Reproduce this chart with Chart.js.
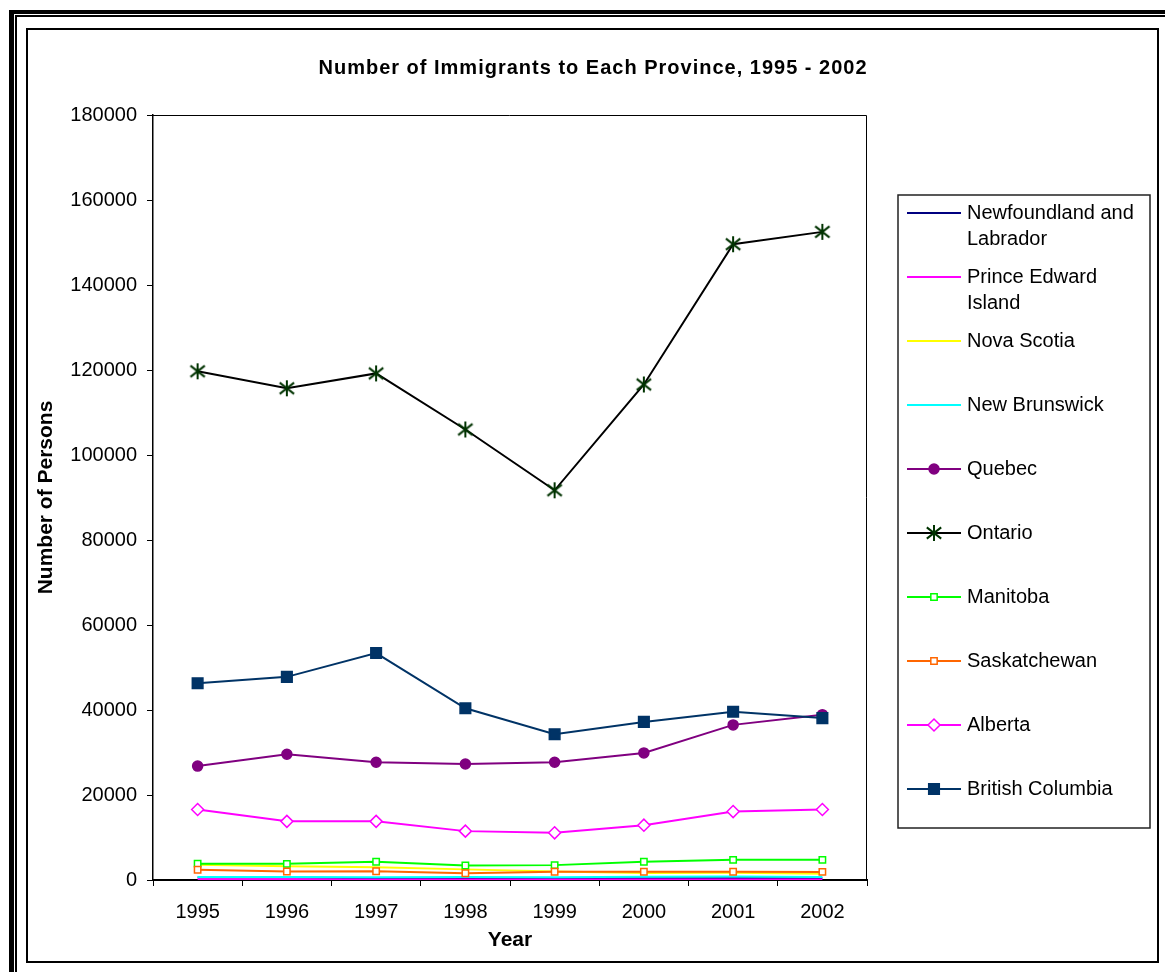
<!DOCTYPE html>
<html>
<head>
<meta charset="utf-8">
<title>Number of Immigrants to Each Province, 1995 - 2002</title>
<script src="https://cdn.jsdelivr.net/npm/chart.js@4.4.1/dist/chart.umd.min.js"></script>
<style>
  html, body { margin: 0; padding: 0; background: #fff; overflow: hidden; }
  #page { position: relative; width: 1165px; height: 972px; }
  .rule { position: absolute; box-sizing: border-box; }
  #outer1 { left: 9px; top: 10px; width: 1200px; height: 1000px; border-left: 5px solid #000; border-top: 4px solid #000; }
  #outer2 { left: 15px; top: 15px; width: 1200px; height: 1000px; border-left: 2px solid #000; border-top: 2px solid #000; }
  #frame { left: 26px; top: 28px; width: 1133px; height: 935px; border: 2px solid #000; background: #fff; }
  canvas { position: absolute; left: 0; top: 0; }
</style>
</head>
<body>
<div id="page">
  <div class="rule" id="outer1"></div>
  <div class="rule" id="outer2"></div>
  <div class="rule" id="frame"></div>
  <canvas id="immigrants-chart" width="1165" height="972"></canvas>
</div>
<script>
const chartTitle = 'Number of Immigrants to Each Province, 1995 - 2002';

const years = ['1995', '1996', '1997', '1998', '1999', '2000', '2001', '2002'];

const provinces = [
    'Newfoundland and Labrador', 'Prince Edward Island', 'Nova Scotia', 'New Brunswick',
    'Quebec', 'Ontario', 'Manitoba', 'Saskatchewan', 'Alberta', 'British Columbia'
];

const newfoundland = [580, 580, 440, 390, 420, 420, 390, 400];
const princeEdward = [150, 150, 140, 140, 140, 140, 130, 110];
const novaScotia = [3600, 3250, 3000, 2500, 2000, 1650, 1700, 1450];
const newBrunswick = [700, 700, 650, 700, 650, 750, 800, 700];
const quebec = [26800, 29600, 27700, 27300, 27700, 29900, 36500, 38900];
const ontario = [119700, 115700, 119200, 106000, 91700, 116600, 149600, 152500];
const manitoba = [3850, 3800, 4300, 3400, 3500, 4300, 4750, 4750];
const saskatchewan = [2400, 2000, 2050, 1600, 1950, 1950, 1950, 1900];
const alberta = [16600, 13800, 13800, 11500, 11100, 12900, 16100, 16600];
const britishColumbia = [46300, 47800, 53400, 40400, 34300, 37200, 39600, 38100];

const yTicks = { min: 0, max: 180000, step: 20000 };

const series = [newfoundland, princeEdward, novaScotia, newBrunswick, quebec,
    ontario, manitoba, saskatchewan, alberta, britishColumbia];

// asterisk marker (vertical bar + X), drawn once and used as an image point style
function asteriskMarker(size, color) {
    const c = document.createElement('canvas');
    c.width = size;
    c.height = size;
    const g = c.getContext('2d');
    const m = size / 2;
    const r = size / 2 - 1;
    g.strokeStyle = color;
    g.lineWidth = 2;
    g.beginPath();
    g.moveTo(m, m - r); g.lineTo(m, m + r);
    g.moveTo(m - r * 0.9, m - r * 0.7); g.lineTo(m + r * 0.9, m + r * 0.7);
    g.moveTo(m + r * 0.9, m - r * 0.7); g.lineTo(m - r * 0.9, m + r * 0.7);
    g.stroke();
    return c;
}

const star = asteriskMarker(18, '#003300');

const looks = [
    { line: '#000080' },
    { line: '#FF00FF' },
    { line: '#FFFF00' },
    { line: '#00FFFF' },
    { line: '#800080', style: 'circle', r: 5, fill: '#800080', edge: '#800080' },
    { line: '#000000', style: star, r: 9, fill: '#003300', edge: '#003300' },
    { line: '#00FF00', style: 'rect', r: 4.5, fill: '#FFFFFF', edge: '#00FF00' },
    { line: '#FF6600', style: 'rect', r: 4.5, fill: '#FFFFFF', edge: '#FF6600' },
    { line: '#FF00FF', style: 'rectRot', r: 6, fill: '#FFFFFF', edge: '#FF00FF' },
    { line: '#003366', style: 'rect', r: 7.5, fill: '#003366', edge: '#003366' }
];

const datasets = provinces.map((name, i) => ({
    label: name,
    data: series[i],
    borderColor: looks[i].line,
    borderWidth: 2,
    pointStyle: looks[i].style || 'circle',
    pointRadius: looks[i].style ? looks[i].r : 0,
    pointHoverRadius: looks[i].style ? looks[i].r : 0,
    pointBackgroundColor: looks[i].fill || looks[i].line,
    pointBorderColor: looks[i].edge || looks[i].line,
    pointBorderWidth: 1.5,
    tension: 0,
    order: provinces.length - 1 - i
}));

// thin box round the plot area
const plotFrame = {
    id: 'plotFrame',
    beforeDatasetsDraw(chart) {
        const { ctx, chartArea: a } = chart;
        ctx.save();
        ctx.strokeStyle = '#000';
        ctx.lineWidth = 1;
        ctx.beginPath();
        ctx.moveTo(a.left, a.top + 0.5);
        ctx.lineTo(a.right - 0.5, a.top + 0.5);
        ctx.lineTo(a.right - 0.5, a.bottom);
        ctx.stroke();
        ctx.restore();
    }
};

// title centred across the whole framed area, not just over the plot
const frameTitle = {
    id: 'frameTitle',
    afterDraw(chart) {
        const ctx = chart.ctx;
        ctx.save();
        ctx.font = 'bold 20px "Liberation Sans", Arial, sans-serif';
        if ('letterSpacing' in ctx) ctx.letterSpacing = '1px';
        ctx.fillStyle = '#000';
        ctx.textAlign = 'center';
        ctx.textBaseline = 'middle';
        ctx.fillText(chartTitle, 593, 68);
        ctx.restore();
    }
};

function wrapText(ctx, text, maxWidth) {
    const words = text.split(' ');
    const lines = [];
    let cur = '';
    words.forEach(w => {
        const test = cur ? cur + ' ' + w : w;
        if (cur && ctx.measureText(test).width > maxWidth) {
            lines.push(cur);
            cur = w;
        } else {
            cur = test;
        }
    });
    lines.push(cur);
    return lines;
}

// boxed legend on the right: line sample with marker, label wrapped to two lines if needed
const sideLegend = {
    id: 'sideLegend',
    afterDraw(chart) {
        const ctx = chart.ctx;
        const left = chart.chartArea.right + 31;
        const top = 195;
        const width = 252;
        const height = 633;
        ctx.save();
        ctx.strokeStyle = '#222';
        ctx.lineWidth = 1.5;
        ctx.strokeRect(left, top, width, height);
        ctx.font = '20px "Liberation Sans", Arial, sans-serif';
        ctx.textBaseline = 'middle';
        chart.data.datasets.forEach((ds, i) => {
            const y = top + 18 + i * 64;
            ctx.strokeStyle = ds.borderColor;
            ctx.lineWidth = ds.borderWidth;
            ctx.beginPath();
            ctx.moveTo(left + 9, y);
            ctx.lineTo(left + 63, y);
            ctx.stroke();
            if (ds.pointRadius > 0) {
                ctx.fillStyle = ds.pointBackgroundColor;
                ctx.strokeStyle = ds.pointBorderColor;
                ctx.lineWidth = ds.pointBorderWidth;
                Chart.helpers.drawPoint(ctx, {
                    pointStyle: ds.pointStyle,
                    radius: ds.pointRadius,
                    borderWidth: ds.pointBorderWidth,
                    rotation: 0
                }, left + 36, y);
            }
            ctx.fillStyle = '#000';
            wrapText(ctx, ds.label, 183).forEach((line, k) => {
                ctx.fillText(line, left + 69, y + k * 26);
            });
        });
        ctx.restore();
    }
};

Chart.defaults.font.family = '"Liberation Sans", Arial, sans-serif';
Chart.defaults.color = '#000';

const ctx = document.getElementById('immigrants-chart').getContext('2d');
new Chart(ctx, {
    type: 'line',
    data: { labels: years, datasets: datasets },
    plugins: [plotFrame, frameTitle, sideLegend],
    options: {
        responsive: false,
        animation: false,
        devicePixelRatio: 1,
        layout: { padding: { left: 28, top: 115, right: 298, bottom: 10 } },
        plugins: {
            legend: { display: false },
            tooltip: { enabled: false },
            title: { display: false }
        },
        scales: {
            x: {
                offset: true,
                grid: { offset: true, drawOnChartArea: false, drawTicks: true, tickLength: 6, color: '#000' },
                border: { display: true, color: '#000', width: 2 },
                ticks: { padding: 14, color: '#000', font: { size: 20 } },
                title: { display: true, text: 'Year', color: '#000', font: { size: 21, weight: 'bold' }, padding: { top: 0, bottom: 9 } },
                afterFit: scale => { scale.height = 82; }
            },
            y: {
                min: yTicks.min,
                max: yTicks.max,
                grid: { drawOnChartArea: false, drawTicks: true, tickLength: 6, color: '#000' },
                border: { display: true, color: '#000', width: 1.5 },
                ticks: { stepSize: yTicks.step, padding: 10, color: '#000', font: { size: 20 }, callback: v => String(v) },
                title: { display: true, text: 'Number of Persons', color: '#000', font: { size: 21, weight: 'bold' }, padding: { top: 6, bottom: 0 } },
                afterFit: scale => { scale.width = 125; }
            }
        }
    }
});
</script>
</body>
</html>
